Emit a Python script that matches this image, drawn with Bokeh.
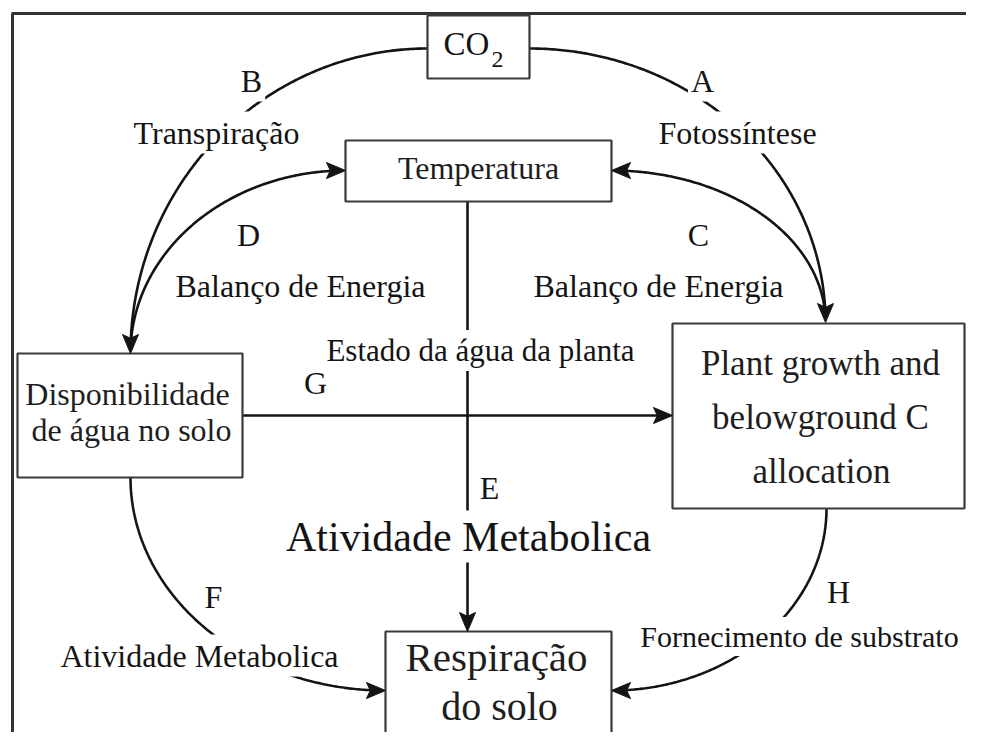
import numpy as np
from bokeh.plotting import figure
from bokeh.models import Range1d, ColumnDataSource
from bokeh.core.properties import value
from bokeh.embed import file_html
from bokeh.resources import INLINE

FONT = "Liberation Serif"
INK = "#141414"
BOXLINE = "#3a3a3a"

# ---------------- nodes (boxes): left, top, right, bottom (picture pixels, y downward)
box_names = ["CO2", "Temperatura", "Disponibilidade", "Plant", "Respiracao"]
box_left = [427, 345, 17, 672, 385]
box_top = [15, 140, 353, 323, 631]
box_right = [529, 611, 242, 964, 611]
box_bottom = [78, 201, 477, 508, 770]

# ---------------- texts inside boxes
box_labels = ["Temperatura", "Disponibilidade", "de água no solo",
              "Plant growth and", "belowground C", "allocation",
              "Respiração", "do solo"]
box_label_x = [478, 127, 131, 820, 820, 821, 496, 499]
box_label_y = [167, 393, 429, 363, 417, 471, 656, 706]
box_label_size = ["32px", "32px", "32px", "35px", "35px", "35px", "41px", "40px"]

co2_text = ["CO", "2"]
co2_x = [466, 497]
co2_y = [43, 59]
co2_size = ["33px", "24px"]

# ---------------- free labels along the links
labels = ["B", "A", "Transpiração", "Fotossíntese", "D", "C",
          "Balanço de Energia", "Balanço de Energia",
          "Estado da água da planta", "G", "E", "Atividade Metabolica",
          "F", "Atividade Metabolica", "H", "Fornecimento de substrato"]
label_x = [251, 702, 216, 737, 248, 698, 300, 658, 480, 315, 489, 468,
           213, 199, 838, 799]
label_y = [80, 80, 132, 132, 234, 234, 285, 285, 350, 382, 487, 536,
           596, 655, 591, 636]
label_size = ["32px", "32px", "32px", "32px", "32px", "32px", "32px", "32px",
              "31px", "32px", "32px", "42px", "32px", "32px", "32px", "30px"]

# ---------------- curved links: quarter ellipses (center, radii, angle range in degrees)
curve_names = ["B", "A", "D", "C", "F", "H"]
curve_cx = [427, 529, 345, 611, 385, 611]
curve_cy = [353, 322, 353, 322, 477, 508]
curve_a = [297, 296, 215, 214, 255, 215]
curve_b = [305, 274, 183, 152, 213, 182]
curve_t0 = [180, 270, 180, 270, 90, 0]
curve_t1 = [270, 360, 270, 360, 180, 90]

# ---------------- straight links: start and end
line_names = ["Temperatura->Respiracao", "Disponibilidade->Plant"]
line_x0 = [467, 242]
line_y0 = [201, 415]
line_x1 = [467, 672]
line_y1 = [631, 415]

# ---------------- arrow heads: tip and direction (degrees, y downward)
head_x = [130, 345, 611, 825, 672, 467, 385, 611]
head_y = [353, 170, 170, 322, 415, 631, 690, 690]
head_dir = [90, 0, 180, 90, 0, 90, 0, 180]
HEAD_LEN = 19
HEAD_HALF = 8

# ---------------- frame
frame_x = [[12, 12], [11, 966]]
frame_y = [[740, 13], [13, 13]]

p = figure(width=966, height=732,
           x_range=Range1d(0, 966), y_range=Range1d(732, 0),
           output_backend="svg", toolbar_location=None,
           x_axis_location=None, y_axis_location=None, min_border=0)
p.grid.visible = False
p.outline_line_color = None
p.background_fill_color = "white"
p.border_fill_color = "white"

# frame
p.multi_line(xs=frame_x, ys=frame_y, line_color="#333333", line_width=3)

# curves
def near_tip(x, y):
    d = np.min(np.hypot(np.array(head_x)[:, None] - x[None, :],
                        np.array(head_y)[:, None] - y[None, :]), axis=0)
    return d < 12

cxs, cys = [], []
for cx, cy, a, b, t0, t1 in zip(curve_cx, curve_cy, curve_a, curve_b, curve_t0, curve_t1):
    t = np.radians(np.linspace(t0, t1, 200))
    x = cx + a * np.cos(t)
    y = cy + b * np.sin(t)
    keep = ~near_tip(x, y)
    cxs.append(list(x[keep]))
    cys.append(list(y[keep]))
p.multi_line(xs=cxs, ys=cys, line_color=INK, line_width=2.6)

# straight lines (stop before arrow tip)
sx, sy = [], []
for x0, y0, x1, y1 in zip(line_x0, line_y0, line_x1, line_y1):
    L = np.hypot(x1 - x0, y1 - y0)
    ux, uy = (x1 - x0) / L, (y1 - y0) / L
    sx.append([x0, x1 - ux * 12])
    sy.append([y0, y1 - uy * 12])
p.multi_line(xs=sx, ys=sy, line_color=INK, line_width=2.6)

# boxes
p.quad(left=box_left, right=box_right, top=box_top, bottom=box_bottom,
       fill_color="white", line_color=BOXLINE, line_width=2.2)

# arrow heads
hx, hy = [], []
for tx, ty, d in zip(head_x, head_y, head_dir):
    r = np.radians(d)
    ux, uy = np.cos(r), np.sin(r)
    bx, by = tx - ux * HEAD_LEN, ty - uy * HEAD_LEN
    px, py = -uy, ux
    hx.append([tx, bx + px * HEAD_HALF, tx - ux * (HEAD_LEN * 0.8), bx - px * HEAD_HALF])
    hy.append([ty, by + py * HEAD_HALF, ty - uy * (HEAD_LEN * 0.8), by - py * HEAD_HALF])
p.patches(xs=hx, ys=hy, fill_color=INK, line_color=INK, line_width=1)

# labels on links (white background cuts the lines)
lab_src = ColumnDataSource(dict(x=label_x, y=label_y, text=labels, size=label_size))
p.text(x="x", y="y", text="text", source=lab_src, text_font=value(FONT),
       text_font_size="size", text_align="center", text_baseline="middle",
       text_color=INK, background_fill_color="white", padding=3)

# box texts
box_src = ColumnDataSource(dict(x=box_label_x, y=box_label_y, text=box_labels, size=box_label_size))
p.text(x="x", y="y", text="text", source=box_src, text_font=value(FONT),
       text_font_size="size", text_align="center", text_baseline="middle",
       text_color="#1e1e1e")

co2_src = ColumnDataSource(dict(x=co2_x, y=co2_y, text=co2_text, size=co2_size))
p.text(x="x", y="y", text="text", source=co2_src, text_font=value(FONT),
       text_font_size="size", text_align="center", text_baseline="middle",
       text_color=INK)

open("out.html", "w").write(file_html(p, INLINE))
